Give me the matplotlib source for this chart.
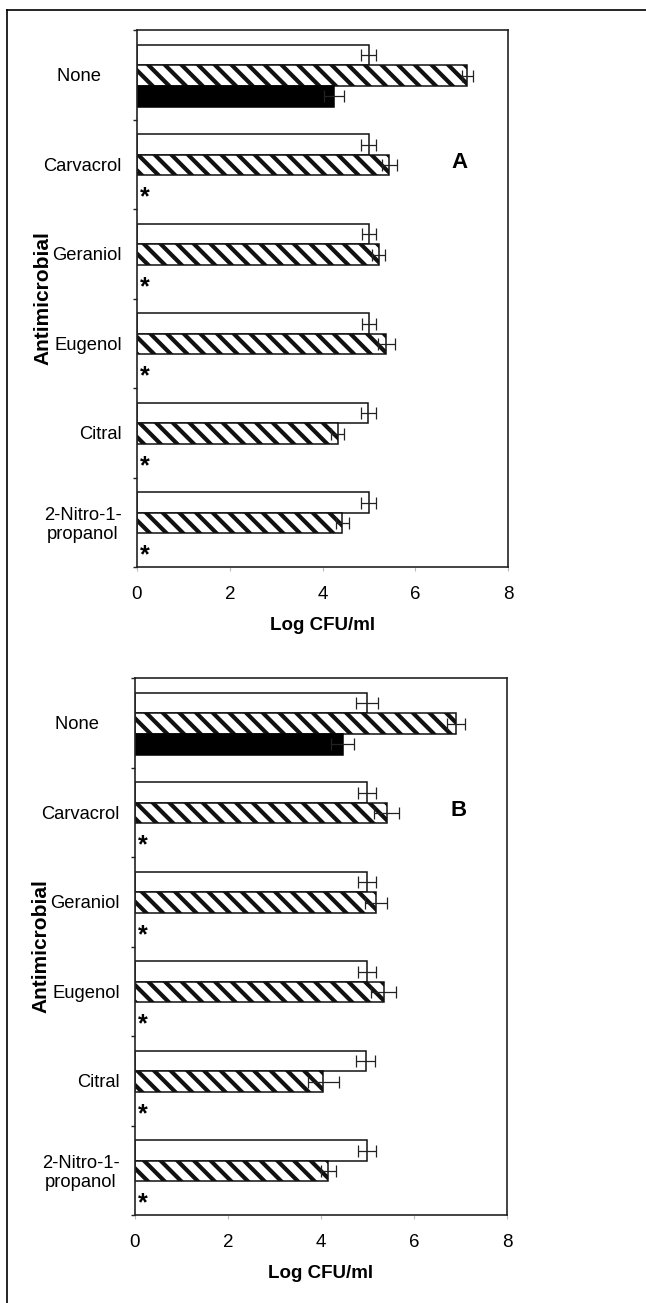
import numpy as np
import matplotlib
matplotlib.use('Agg')
import matplotlib.pyplot as plt
from matplotlib.lines import Line2D

plt.rcParams['hatch.linewidth'] = 3.0

categories = ['None', 'Carvacrol', 'Geraniol', 'Eugenol', 'Citral', '2-Nitro-1-\npropanol']
cat_labels = ['None    ', 'Carvacrol', 'Geraniol', 'Eugenol', 'Citral', '2-Nitro-1-\npropanol']

# panel A
a_white = [5.0, 5.0, 5.0, 5.0, 4.99, 5.0]
a_white_err = [0.16, 0.16, 0.15, 0.15, 0.16, 0.16]
a_hatch = [7.12, 5.44, 5.21, 5.38, 4.33, 4.43]
a_hatch_err = [0.12, 0.16, 0.14, 0.19, 0.14, 0.14]
a_black = [4.25, 0, 0, 0, 0, 0]
a_black_err = [0.22, 0, 0, 0, 0, 0]

# panel B
b_white = [4.99, 4.99, 4.99, 4.99, 4.96, 4.99]
b_white_err = [0.23, 0.2, 0.2, 0.2, 0.2, 0.2]
b_hatch = [6.90, 5.41, 5.19, 5.35, 4.05, 4.16]
b_hatch_err = [0.2, 0.27, 0.24, 0.27, 0.34, 0.17]
b_black = [4.47, 0, 0, 0, 0, 0]
b_black_err = [0.25, 0, 0, 0, 0, 0]

star = [False, True, True, True, True, True]

FONT = ['Liberation Sans', 'DejaVu Sans']

fig = plt.figure(figsize=(6.46, 13.03), dpi=100)

# outer frame of the figure
fig.add_artist(Line2D([7/646, 1.0], [1 - 10/1303, 1 - 10/1303], color='black', lw=1.2))
fig.add_artist(Line2D([7/646, 7/646], [0, 1 - 10/1303], color='black', lw=1.2))


def panel(rect, white, werr, hatch, herr, black, berr, letter):
    ax = fig.add_axes(rect)
    y = np.arange(len(categories))
    h = 0.23
    ekw = dict(ecolor='#222222', elinewidth=0.9, capsize=4, capthick=0.9)
    ax.barh(y + 0.28, white, h, xerr=werr, color='white', edgecolor='#111111', lw=1.1, error_kw=ekw)
    ax.barh(y + 0.51, hatch, h, xerr=herr, color='white', edgecolor='#111111', lw=1.1,
            hatch='\\\\', error_kw=ekw)
    bx = [v for v in black if v > 0]
    by = [y[i] + 0.74 for i, v in enumerate(black) if v > 0]
    be = [berr[i] for i, v in enumerate(black) if v > 0]
    ax.barh(by, bx, h, xerr=be, color='black', edgecolor='black', lw=1.1, error_kw=ekw)
    for i, s in enumerate(star):
        if s:
            ax.text(0.17, y[i] + 0.87, '*', fontsize=18, fontweight='bold', ha='center',
                    va='center', family=FONT)
    ax.set_xlim(0, 8)
    ax.set_ylim(len(categories), 0)
    ax.set_xticks([0, 2, 4, 6, 8])
    ax.set_xticklabels(['0', '2', '4', '6', '8'], family=FONT, fontsize=13.5)
    ax.tick_params(axis='x', length=3, color='#bbbbbb', pad=11)
    ax.set_yticks(np.arange(len(categories) + 1))
    ax.set_yticklabels([])
    ax.tick_params(axis='y', length=3, width=1, color='#222222')
    ax.set_yticks(y + 0.5, minor=True)
    ax.set_yticklabels(cat_labels, minor=True, family=FONT, fontsize=13.2, linespacing=1.15)
    ax.tick_params(axis='y', which='minor', length=0, pad=11)
    for lab in ax.get_yticklabels(minor=True):
        if '\n' in lab.get_text():
            lab.set_multialignment('center')
    for sp in ax.spines.values():
        sp.set_color('#222222')
        sp.set_linewidth(1.2)
    ax.set_xlabel('Log CFU/ml', family=FONT, fontweight='bold', fontsize=13.5, labelpad=10)
    ax.set_ylabel('Antimicrobial', family=FONT, fontweight='bold', fontsize=15)
    ax.yaxis.set_label_coords(-94/371, 0.5)
    ax.yaxis.label.set_va('center')
    ax.text(6.96, 1.48, letter, fontsize=16, fontweight='bold', ha='center', va='center',
            family=FONT)
    return ax


panel([137/646, 1 - 567/1303, 371/646, 537/1303],
      a_white, a_white_err, a_hatch, a_hatch_err, a_black, a_black_err, 'A')
panel([135/646, 1 - 1215/1303, 372/646, 537/1303],
      b_white, b_white_err, b_hatch, b_hatch_err, b_black, b_black_err, 'B')

fig.savefig('out.png', dpi=100)
